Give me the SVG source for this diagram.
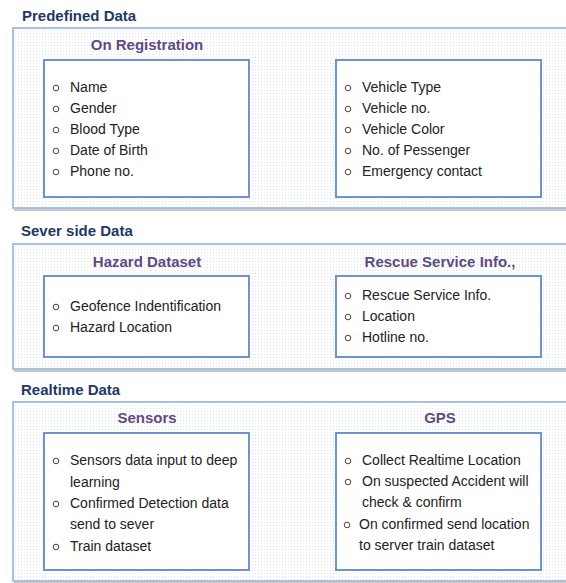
<svg xmlns="http://www.w3.org/2000/svg" width="566" height="583" viewBox="0 0 566 583">
<defs>
<pattern id="dots" width="3" height="3" patternUnits="userSpaceOnUse">
<rect width="3" height="3" fill="#ffffff"/>
<rect x="0" y="0" width="1" height="1" fill="#dfe3ea"/>
</pattern>
<style>
.sec{font-family:"Liberation Sans",Arial,sans-serif;font-weight:bold;font-size:15px;fill:#1f3864}
.sub{font-family:"Liberation Sans",Arial,sans-serif;font-weight:bold;font-size:15px;fill:#5f4a82;text-anchor:middle}
.it{font-family:"Liberation Sans",Arial,sans-serif;font-size:14px;fill:#222222}
.outer{fill:url(#dots);stroke:#a9c0e4;stroke-width:2}
.shadow{fill:none;stroke:#c8c8c8;stroke-width:2}
.inner{fill:#ffffff;stroke:#6f93cf;stroke-width:2}
.bul{fill:none;stroke:#444444;stroke-width:1}
</style>
</defs>

<g id="predefined">
<text class="sec" x="22" y="21">Predefined Data</text>
<line class="shadow" x1="14" y1="210" x2="566" y2="210"/>
<rect class="outer" x="13" y="28" width="560" height="180"/>
<text class="sub" x="147" y="50">On Registration</text>
</g>
<g id="personal">
<rect class="inner" x="44" y="60" width="205" height="137"/>
<circle class="bul" cx="56" cy="88" r="2.8"/><text class="it" x="70" y="92">Name</text>
<circle class="bul" cx="56" cy="109" r="2.8"/><text class="it" x="70" y="113">Gender</text>
<circle class="bul" cx="56" cy="130" r="2.8"/><text class="it" x="70" y="134">Blood Type</text>
<circle class="bul" cx="56" cy="151" r="2.8"/><text class="it" x="70" y="155">Date of Birth</text>
<circle class="bul" cx="56" cy="172" r="2.8"/><text class="it" x="70" y="176">Phone no.</text>
</g>
<g id="vehicle">
<rect class="inner" x="336" y="60" width="205" height="137"/>
<circle class="bul" cx="348" cy="88" r="2.8"/><text class="it" x="362" y="92">Vehicle Type</text>
<circle class="bul" cx="348" cy="109" r="2.8"/><text class="it" x="362" y="113">Vehicle no.</text>
<circle class="bul" cx="348" cy="130" r="2.8"/><text class="it" x="362" y="134">Vehicle Color</text>
<circle class="bul" cx="348" cy="151" r="2.8"/><text class="it" x="362" y="155">No. of Pessenger</text>
<circle class="bul" cx="348" cy="172" r="2.8"/><text class="it" x="362" y="176">Emergency contact</text>
</g>

<g id="server">
<text class="sec" x="21" y="236">Sever side Data</text>
<line class="shadow" x1="14" y1="371" x2="566" y2="371"/>
<rect class="outer" x="13" y="244" width="560" height="125"/>
<text class="sub" x="147" y="267">Hazard Dataset</text>
<text class="sub" x="440" y="267">Rescue Service Info.,</text>
</g>
<g id="hazard">
<rect class="inner" x="44" y="276" width="205" height="81"/>
<circle class="bul" cx="56" cy="307" r="2.8"/><text class="it" x="70" y="311">Geofence Indentification</text>
<circle class="bul" cx="56" cy="328" r="2.8"/><text class="it" x="70" y="332">Hazard Location</text>
</g>
<g id="rescue">
<rect class="inner" x="336" y="276" width="205" height="81"/>
<circle class="bul" cx="348" cy="296" r="2.8"/><text class="it" x="362" y="300">Rescue Service Info.</text>
<circle class="bul" cx="348" cy="317" r="2.8"/><text class="it" x="362" y="321">Location</text>
<circle class="bul" cx="348" cy="338" r="2.8"/><text class="it" x="362" y="342">Hotline no.</text>
</g>

<g id="realtime">
<text class="sec" x="21" y="395">Realtime Data</text>
<line class="shadow" x1="14" y1="583" x2="566" y2="583"/>
<rect class="outer" x="13" y="402" width="560" height="179"/>
<text class="sub" x="147" y="423">Sensors</text>
<text class="sub" x="440" y="423">GPS</text>
</g>
<g id="sensors">
<rect class="inner" x="44" y="433" width="205" height="137"/>
<circle class="bul" cx="56" cy="461" r="2.8"/><text class="it" x="70" y="465">Sensors data input to deep</text>
<text class="it" x="70" y="487">learning</text>
<circle class="bul" cx="56" cy="504" r="2.8"/><text class="it" x="70" y="508">Confirmed Detection data</text>
<text class="it" x="70" y="529">send to sever</text>
<circle class="bul" cx="56" cy="547" r="2.8"/><text class="it" x="70" y="551">Train dataset</text>
</g>
<g id="gps">
<rect class="inner" x="336" y="433" width="205" height="137"/>
<circle class="bul" cx="348" cy="461" r="2.8"/><text class="it" x="362" y="465">Collect Realtime Location</text>
<circle class="bul" cx="348" cy="482" r="2.8"/><text class="it" x="362" y="486">On suspected Accident will</text>
<text class="it" x="362" y="507">check &amp; confirm</text>
<circle class="bul" cx="347" cy="525" r="2.8"/><text class="it" x="359" y="529">On confirmed send location</text>
<text class="it" x="359" y="550">to server train dataset</text>
</g>
<g id="connectors"></g>
</svg>
